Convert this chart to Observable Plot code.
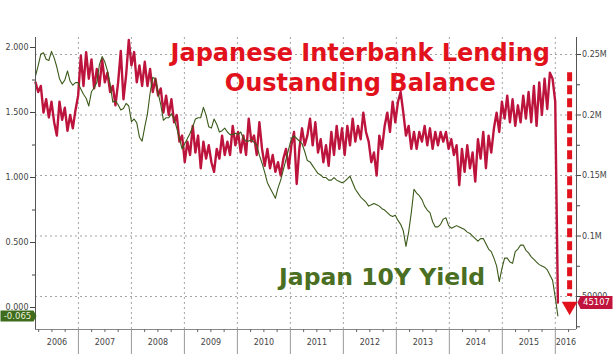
<!DOCTYPE html>
<html><head><meta charset="utf-8">
<script src="https://cdn.jsdelivr.net/npm/d3@7"></script>
<script src="https://cdn.jsdelivr.net/npm/@observablehq/plot@0.6"></script>
<style>body{margin:0;background:#fff} #chart{width:614px;height:354px}</style>
</head><body><div id="chart"></div><script>
// time grid: one reading every ~18 days starting early March 2006
const startYear = 2006.19;
const stepYear = 0.0503;

// Japan 10Y yield (%), left axis
const yieldValues = [
 1.78,1.86,1.95,1.96,1.91,1.90,1.97,1.92,1.85,1.76,
 1.72,1.75,1.82,1.74,1.71,1.73,1.73,1.68,1.64,1.61,
 1.55,1.66,1.69,1.73,1.87,1.93,1.89,1.82,1.72,1.58,
 1.59,1.56,1.52,1.53,1.57,1.55,1.43,1.45,1.42,1.31,
 1.28,1.39,1.49,1.65,1.77,1.76,1.65,1.56,1.44,1.46,
 1.46,
 1.49,1.45,1.38,1.30,1.22,1.26,1.30,1.34,1.39,1.45,
 1.46,1.46,1.54,1.48,1.39,1.38,1.45,1.41,1.35,1.36,
 1.38,1.35,1.33,1.33,1.34,1.33,1.35,1.30,1.28,1.28,
 1.29,1.27,1.25,1.17,1.11,1.04,0.96,0.92,0.88,0.84,
 0.92,0.98,1.06,1.14,1.22,1.30,1.32,1.30,1.28,1.26,
 1.20,
 1.13,1.12,1.09,1.06,1.03,1.02,1.00,1.00,0.98,0.98,
 1.00,0.98,0.97,0.96,0.97,0.99,1.01,0.96,0.91,0.88,
 0.85,0.83,0.81,0.78,0.79,0.80,0.79,0.78,0.76,0.75,
 0.73,0.71,0.70,0.71,0.67,0.64,0.59,0.47,0.58,0.73,
 0.91,0.88,0.86,0.83,0.78,0.75,0.73,0.66,0.62,0.62,
 0.64,0.68,0.69,0.63,0.61,0.62,0.63,0.62,0.61,0.60,
 0.58,0.57,0.55,0.53,0.51,0.53,0.53,0.49,0.45,0.43,
 0.38,0.32,0.20,0.30,0.38,0.38,0.35,0.34,0.43,0.45,
 0.48,0.48,0.44,0.42,0.39,0.37,0.35,0.33,0.32,0.31,
 0.29,0.25,0.21,0.08,-0.065
];

// Interbank lending outstanding balance (thousands), right axis
const lendingK = [
 227,219,224,202,213,198,211,194,183,211,
 196,206,187,200,189,204,216,249,224,252,
 230,246,222,238,224,246,227,235,219,224,
 208,227,253,213,233,262,241,252,227,241,
 224,244,224,238,219,230,216,222,202,216,
 200,
 213,194,200,178,183,161,178,167,191,169,
 183,156,178,164,175,161,153,172,164,183,
 167,178,167,191,175,186,169,183,167,197,
 178,183,167,194,172,158,172,156,167,153,
 161,150,164,172,156,175,186,143,172,189,
 175,
 183,197,175,194,169,180,161,175,158,186,
 167,191,172,189,167,191,175,197,178,191,
 180,202,186,178,161,169,150,183,172,191,
 202,186,211,194,211,219,202,183,191,172,
 186,172,186,178,191,175,189,172,186,175,
 186,178,186,172,180,167,175,142,172,153,
 175,156,169,145,180,164,186,156,183,169,
 189,202,186,211,197,216,194,213,191,208,
 194,216,197,219,194,224,191,227,200,230,
 205,235,230,211,45.107
];

const leftTicks = [0, 0.5, 1, 1.5, 2];
const leftMinorTicks = [0.25, 0.75, 1.25, 1.75];
const rightTicksK = [50, 100, 150, 200, 250];
const rightTickLabels = ["50000", "0.1M", "0.15M", "0.2M", "0.25M"];
const rightMinorK = [25, 75, 125, 175, 225];
const yearLabels = [2006,2007,2008,2009,2010,2011,2012,2013,2014,2015,2016];
const xDomain = [2006.19, 2016.40];
const yDomain = [-0.169, 2.077];

// annotations
const titleLines = ["Japanese Interbank Lending", "Oustanding Balance"];
const titleYears = [2012.32, 2012.32];
const titleLevels = [1.955, 1.725];
const yieldLabel = "Japan 10Y Yield";
const yieldLabelYear = 2012.73;
const yieldLabelLevel = 0.235;
const arrowYear = 2016.27;
const arrowFromK = 235;
const arrowToK = 50;
const arrowHeadK = 42;

// right axis (thousands) -> left axis units
const toLeft = k => 0.0846 + (k - 50) * 0.009308;

const yieldRows = yieldValues.map((v, i) => ({t: startYear + i * stepYear, v}));
const lendRows = lendingK.map((k, i) => ({t: startYear + i * stepYear, v: toLeft(k)}));
const lastYield = yieldRows[yieldRows.length - 1];
const lastLend = lendRows[lendRows.length - 1];

const rightTicksL = rightTicksK.map(toLeft);
const rightLabelMap = new Map(rightTicksL.map((v, i) => [v, rightTickLabels[i]]));
const rightMinorL = rightMinorK.map(toLeft);

const boundaries = yearLabels.slice(1);
const quarters = [];
yearLabels.forEach(y => [0.25, 0.5, 0.75].forEach(q => {
  const v = y + q; if (v > xDomain[0] && v < xDomain[1]) quarters.push(v);
}));
const labelPos = yearLabels.map((y, i) =>
  i === 0 ? (xDomain[0] + y + 1) / 2 : i === yearLabels.length - 1 ? (y + xDomain[1]) / 2 : y + 0.5);
const yearMap = new Map(labelPos.map((p, i) => [p, String(yearLabels[i])]));

const badgeLeft = {draw(c) { c.moveTo(-18, -5.5); c.lineTo(15, -5.5); c.lineTo(18, 0); c.lineTo(15, 5.5); c.lineTo(-18, 5.5); c.closePath(); }};
const badgeRight = {draw(c) { c.moveTo(-15, -6.5); c.lineTo(17, -6.5); c.lineTo(17, 6.5); c.lineTo(-15, 6.5); c.lineTo(-18, 0); c.closePath(); }};

const gridStyle = {stroke: "#9a9a9a", strokeOpacity: 0.9, strokeDasharray: "2,3"};
const font = "DejaVu Sans, Verdana, sans-serif";

const chart = Plot.plot({
  width: 614, height: 354,
  marginLeft: 35, marginRight: 38, marginTop: 37, marginBottom: 25,
  x: {type: "linear", domain: xDomain, label: null},
  y: {domain: yDomain, label: null},
  style: {fontFamily: font, background: "#fff", color: "#333"},
  marks: [
    Plot.gridY(rightTicksL, gridStyle),
    Plot.gridX(boundaries, gridStyle),
    Plot.line(lendRows, {x: "t", y: "v", stroke: "#bc143c", strokeWidth: 2.4, strokeLinejoin: "round"}),
    Plot.line(yieldRows, {x: "t", y: "v", stroke: "#3b5a1a", strokeWidth: 1.1}),
    Plot.ruleX([xDomain[0]], {stroke: "#555"}),
    Plot.ruleX([xDomain[1]], {stroke: "#555"}),
    Plot.ruleY([yDomain[0]], {stroke: "#888"}),
    Plot.axisY(leftTicks, {anchor: "left", tickSize: 5, tickPadding: 2, fontSize: 8, fill: "#444", stroke: "#444", tickFormat: d3.format(".3f")}),
    Plot.axisY(leftMinorTicks, {anchor: "left", tickSize: 3, tickFormat: () => "", stroke: "#444"}),
    Plot.axisY(rightTicksL, {anchor: "right", tickSize: 4, tickPadding: 1.5, fontSize: 8, fill: "#444", stroke: "#444", tickFormat: d => rightLabelMap.get(d)}),
    Plot.axisY(rightMinorL, {anchor: "right", tickSize: 3, tickFormat: () => "", stroke: "#444"}),
    Plot.axisX(labelPos, {anchor: "bottom", tickSize: 0, tickPadding: 10, fontSize: 8, fill: "#444", tickFormat: d => yearMap.get(d)}),
    Plot.axisX(boundaries, {anchor: "bottom", tickSize: 25, tickFormat: () => "", stroke: "#999"}),
    Plot.axisX(quarters, {anchor: "bottom", tickSize: 3, tickFormat: () => "", stroke: "#666"}),
    // annotations
    Plot.text(titleLines, {x: (d, i) => titleYears[i], y: (d, i) => titleLevels[i], text: d => d, fill: "#e2121c", fontSize: 24, fontWeight: "bold", textAnchor: "middle", lineAnchor: "middle"}),
    Plot.text([yieldLabel], {x: yieldLabelYear, y: yieldLabelLevel, text: d => d, fill: "#4a6e22", fontSize: 23.5, fontWeight: "bold", textAnchor: "middle", lineAnchor: "middle"}),
    Plot.ruleX([arrowYear], {x: d => d, y1: toLeft(arrowFromK), y2: toLeft(arrowToK), stroke: "#e2121c", strokeWidth: 5, strokeDasharray: "9,4"}),
    Plot.dot([arrowYear], {x: d => d, y: toLeft(arrowHeadK), symbol: "triangle", rotate: 180, r: 5.8, fill: "#e2121c", stroke: "none"}),
    // last value badges
    Plot.dot([lastYield], {y: "v", frameAnchor: "left", dx: -17, symbol: badgeLeft, fill: "#3e6b1c", stroke: "none", r: 3}),
    Plot.text([lastYield], {y: "v", frameAnchor: "left", dx: -18, text: d => String(d.v), fill: "#e8f0dc", fontSize: 8.5, textAnchor: "middle"}),
    Plot.dot([lastLend], {y: "v", frameAnchor: "right", dx: 19, symbol: badgeRight, fill: "#c0143c", stroke: "none", r: 3}),
    Plot.text([lastLend], {y: "v", frameAnchor: "right", dx: 20, text: () => String(Math.round(lendingK[lendingK.length - 1] * 1000)), fill: "#fff", fontSize: 8.5, textAnchor: "middle"})
  ]
});
document.getElementById("chart").appendChild(chart);
</script></body></html>
